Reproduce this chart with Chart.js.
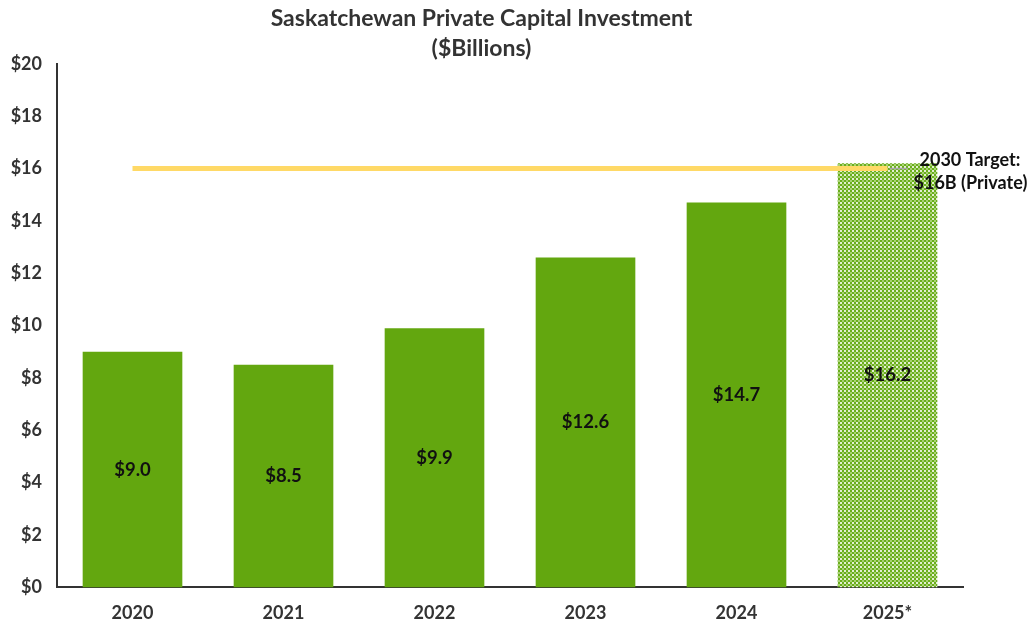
<!DOCTYPE html>
<html>
<head>
<meta charset="utf-8">
<script src="https://cdn.jsdelivr.net/npm/chart.js@4"></script>
<style>
  html, body { margin: 0; padding: 0; background: #fff; }
  #wrap { width: 1034px; height: 629px; position: relative; }
</style>
</head>
<body>
<div id="wrap"><canvas id="chart"></canvas></div>
<script>
/* Saskatchewan Private Capital Investment ($Billions) */

const years   = ['2020', '2021', '2022', '2023', '2024', '2025*'];
const invest  = [9.0, 8.5, 9.9, 12.6, 14.7, 16.2];
const target  = [16, 16, 16, 16, 16, 16];
const yTicks  = [0, 2, 4, 6, 8, 10, 12, 14, 16, 18, 20];
const targetNote = ['2030 Target:', '$16B (Private)'];

const FONT = 'Lato, "Open Sans", sans-serif';
const GREEN = '#63A70F';

// dotted fill for the projected 2025 bar
function dotPattern() {
  const c = document.createElement('canvas');
  c.width = 4; c.height = 4;
  const g = c.getContext('2d');
  g.fillStyle = '#E4F0D2';
  g.fillRect(0, 0, 4, 4);
  g.fillStyle = '#6AAE1C';
  g.fillRect(0, 0, 2, 2);
  g.fillRect(2, 2, 2, 2);
  g.fillStyle = '#A9D274';
  g.fillRect(2, 0, 2, 2);
  return g.createPattern(c, 'repeat');
}

const barColors = invest.map((v, i) => i === invest.length - 1 ? dotPattern() : GREEN);

// value labels in the middle of each bar + target annotation
const labelPlugin = {
  id: 'labels',
  afterDatasetsDraw(chart) {
    const ctx = chart.ctx;
    const meta = chart.getDatasetMeta(1);
    ctx.save();
    ctx.font = 'bold 18.5px ' + FONT;
    ctx.fillStyle = '#111';
    ctx.textAlign = 'center';
    ctx.textBaseline = 'middle';
    meta.data.forEach((bar, i) => {
      const mid = (bar.y + bar.base) / 2;
      ctx.fillText('$' + invest[i].toFixed(1), bar.x, mid);
    });

    // little grey pointer + note
    const y = chart.scales.y.getPixelForValue(target[0]);
    const last = meta.data[meta.data.length - 1];
    ctx.strokeStyle = '#A6A6A6';
    ctx.lineWidth = 1.5;
    ctx.beginPath();
    ctx.moveTo(last.x + 2, y);
    ctx.lineTo(last.x + 20, y);
    ctx.stroke();

    ctx.font = 'bold 18px ' + FONT;
    ctx.fillStyle = '#111';
    ctx.textAlign = 'left';
    ctx.fillText(targetNote[0], last.x + 32, y - 8);
    ctx.fillText(targetNote[1], last.x + 26, y + 15);
    ctx.restore();
  }
};

new Chart(document.getElementById('chart'), {
  data: {
    labels: years,
    datasets: [
      {
        type: 'line',
        data: target,
        borderColor: '#FFD966',
        borderWidth: 5,
        pointRadius: 0,
        order: 0,
      },
      {
        type: 'bar',
        data: invest,
        backgroundColor: barColors,
        categoryPercentage: 1,
        barPercentage: 0.66,
        order: 1,
      },
    ],
  },
  options: {
    responsive: true,
    maintainAspectRatio: false,
    animation: false,
    layout: { padding: { top: 0, right: 71, bottom: -10, left: 0 } },
    plugins: {
      legend: { display: false },
      tooltip: { enabled: false },
      title: {
        display: true,
        text: ['Saskatchewan Private Capital Investment', '($Billions)'],
        color: '#333',
        font: { family: FONT, size: 23, weight: 'bold', lineHeight: 1.3 },
        padding: { top: 4, bottom: 0 },
      },
    },
    scales: {
      x: {
        grid: { display: false, drawTicks: false },
        border: { color: '#333', width: 2 },
        ticks: {
          color: '#333',
          font: { family: FONT, size: 18, weight: 'bold' },
          padding: 15,
        },
      },
      y: {
        min: 0,
        max: 20,
        afterBuildTicks: s => { s.ticks = yTicks.map(v => ({ value: v })); },
        afterFit: s => { s.width = 57; },
        grid: { display: false, drawTicks: false },
        border: { color: '#333', width: 2 },
        ticks: {
          color: '#333',
          font: { family: FONT, size: 18, weight: 'bold' },
          padding: 15,
          callback: v => '$' + v,
        },
      },
    },
  },
  plugins: [labelPlugin],
});
</script>
</body>
</html>
